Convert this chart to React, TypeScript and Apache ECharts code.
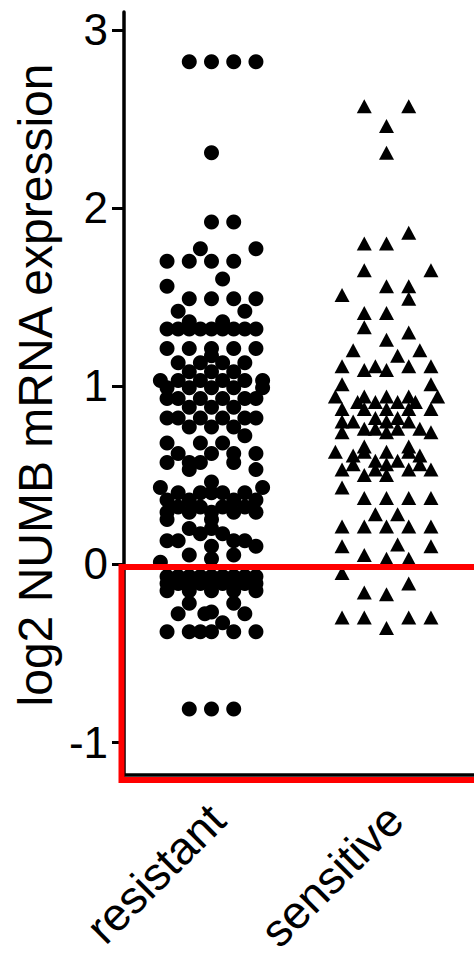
import React, { useEffect, useRef } from "react";
import * as echarts from "echarts";

const categories = ["resistant", "sensitive"];
const yTicks = [-1, 0, 1, 2, 3];
const yTitle = "log2 NUMB mRNA expression";

// [log2 value, horizontal slots (in marker widths) of the points sharing that value]
const resistantRows: [number, number[]][] = [
  [2.82, [-1, 0, 1, 2]],
  [2.31, [0]],
  [1.92, [0, 1]],
  [1.77, [-0.5, 2]],
  [1.7, [-2, -1, 0, 1]],
  [1.6, [0.5]],
  [1.56, [-2]],
  [1.49, [-1, 0, 1, 2]],
  [1.42, [-1.5, 1.5]],
  [1.36, [-1, 0.5]],
  [1.32, [-2, -1.5, -1, -0.5, 0, 0.5, 1, 1.5, 2]],
  [1.21, [-2, -1, 0, 1, 2]],
  [1.17, [0]],
  [1.13, [-1.5, -0.5, 0.5, 1.5]],
  [1.08, [-1, 0, 1]],
  [1.03, [-2.3, -1.5, -0.5, 0.5, 1.5, 2.3]],
  [0.99, [-2, -1, 0, 1, 2.3]],
  [0.93, [-2, -1.5, -0.5, 0.5, 1.5, 2]],
  [0.88, [-1, 0, 1]],
  [0.82, [-2, -1.5, -0.5, 0.5, 1.5, 2]],
  [0.77, [-1, 0, 1]],
  [0.72, [1.5]],
  [0.68, [-2, -0.5, 0.5]],
  [0.62, [-1.5, 0, 1, 2]],
  [0.57, [-2, -1, -0.5, 1]],
  [0.53, [-1, 2]],
  [0.46, [0]],
  [0.43, [-2.3, 2.3]],
  [0.4, [-1.5, -0.5, 0, 0.5, 1.5]],
  [0.36, [-2, -1, 1, 2]],
  [0.32, [-1.5, -0.5, 0.5, 1.5]],
  [0.29, [-2, -1, 0, 1, 2]],
  [0.25, [-2, 0]],
  [0.2, [-1, 0]],
  [0.17, [-0.5, 0.5]],
  [0.13, [-2, -1.5, 1, 1.5]],
  [0.1, [0, 2]],
  [0.05, [-1, 1]],
  [0.03, [0]],
  [0.01, [-2.3]],
  [-0.07, [-2, -1.5, -1, -0.5, 0, 0.5, 1, 1.5, 2]],
  [-0.11, [-2, -1.5, -1, -0.5, 0, 0.5, 1, 1.5, 2]],
  [-0.15, [-2, -1, 0, 1, 2]],
  [-0.22, [-1, 1]],
  [-0.27, [0]],
  [-0.28, [-1.5, -0.3, 1.5]],
  [-0.33, [0.5]],
  [-0.38, [-2, -1, -0.5, 0, 1, 2]],
  [-0.815, [-1, 0, 1]],
];

const sensitiveRows: [number, number[]][] = [
  [2.57, [-1, 1]],
  [2.46, [0]],
  [2.31, [0]],
  [1.86, [1]],
  [1.8, [-1, 0]],
  [1.65, [-1, 2]],
  [1.56, [0, 1]],
  [1.51, [-2]],
  [1.49, [1]],
  [1.41, [-1, 0]],
  [1.33, [-1]],
  [1.3, [1]],
  [1.26, [0]],
  [1.2, [-1.5, 1.5]],
  [1.17, [0.5]],
  [1.11, [-2, -0.5, 1, 2]],
  [1.09, [-1, 0]],
  [1.01, [-2, 2]],
  [0.94, [-2.3, -1, 0, 1, 2.3]],
  [0.91, [-1.3, -0.5, 0.5, 1.3]],
  [0.87, [-2, -1, 0, 1, 2]],
  [0.82, [-0.5, 0.5]],
  [0.8, [-2, -1.5, 0, 1]],
  [0.76, [-1, -0.5, 0.5, 1.5]],
  [0.74, [-2, 0, 2]],
  [0.66, [-1, 1]],
  [0.63, [-2.3, -1, 0, 1]],
  [0.61, [-1.5, 1.5]],
  [0.58, [-0.5, 0.5]],
  [0.56, [-1.5, 0, 1.5]],
  [0.53, [-2, -0.5, 1, 2]],
  [0.5, [-1, 0]],
  [0.43, [-2]],
  [0.37, [-1, 0, 1, 2]],
  [0.28, [-0.5, 0.5]],
  [0.21, [-2, -1, 0, 1, 2]],
  [0.11, [0.5]],
  [0.1, [-2, 2]],
  [0.05, [-1]],
  [0.03, [0, 1]],
  [-0.05, [-2]],
  [-0.11, [1]],
  [-0.16, [-1]],
  [-0.17, [0]],
  [-0.3, [-2, -1, 1, 2]],
  [-0.36, [0]],
];

const FONT = "Liberation Sans, Arial, sans-serif";

export default function App() {
  const ref = useRef<HTMLDivElement>(null);

  useEffect(() => {
    if (!ref.current) return;
    const chart = echarts.init(ref.current, null, { renderer: "svg" });

    const gridLeft = 124;
    const gridTop = 12;
    const gridWidth = 356;
    const gridHeight = 763;
    const band = gridWidth / categories.length;
    const slot = 0.127; // one marker width in x-value units

    const toPoints = (rows: [number, number[]][], center: number) =>
      rows.flatMap(([v, offs]) => offs.map((o) => [center + o * slot, v]));

    const labelGraphics = categories.map((c, i) => ({
      type: "text",
      x: gridLeft + (i + 0.5) * band + 4,
      y: 812,
      rotation: Math.PI / 4,
      style: {
        text: c,
        font: `46px ${FONT}`,
        fill: "#000",
        align: "right",
        verticalAlign: "middle",
        textAlign: "right",
        textVerticalAlign: "middle",
      },
    }));

    chart.setOption({
      animation: false,
      backgroundColor: "#fff",
      grid: { left: gridLeft, top: gridTop, width: gridWidth, height: gridHeight },
      xAxis: [
        {
          type: "category",
          data: categories,
          boundaryGap: true,
          axisLine: { onZero: false, lineStyle: { color: "#000", width: 3.5 } },
          axisTick: { alignWithLabel: true, length: 15, lineStyle: { color: "#000", width: 3 } },
          axisLabel: { show: false },
          splitLine: { show: false },
        },
        { type: "value", min: 0, max: 2, show: false },
      ],
      yAxis: {
        type: "value",
        min: -1.185,
        max: 3.1,
        axisLine: { show: true, onZero: false, lineStyle: { color: "#000", width: 3.5 } },
        axisTick: {
          show: true,
          length: 12,
          customValues: yTicks,
          lineStyle: { color: "#000", width: 3 },
        },
        axisLabel: {
          customValues: yTicks,
          fontSize: 44,
          color: "#000",
          fontFamily: FONT,
          margin: 16,
        },
        splitLine: { show: false },
      },
      series: [
        {
          name: categories[0],
          type: "scatter",
          xAxisIndex: 1,
          symbol: "circle",
          symbolSize: 15,
          itemStyle: { color: "#000", opacity: 1 },
          data: toPoints(resistantRows, 0.5),
        },
        {
          name: categories[1],
          type: "scatter",
          xAxisIndex: 1,
          symbol: "triangle",
          symbolSize: [15, 14],
          itemStyle: { color: "#000", opacity: 1 },
          data: toPoints(sensitiveRows, 1.5),
        },
      ],
      graphic: [
        {
          type: "text",
          x: 35,
          y: 385,
          rotation: Math.PI / 2,
          style: {
            text: yTitle,
            font: `48px ${FONT}`,
            fill: "#000",
            align: "center",
            verticalAlign: "middle",
            textAlign: "center",
            textVerticalAlign: "middle",
          },
        },
        ...labelGraphics,
        {
          type: "rect",
          z: 100,
          shape: { x: 121.5, y: 567, width: 400, height: 213 },
          style: { fill: "none", stroke: "#ff0000", lineWidth: 6 },
        },
      ],
    });

    return () => chart.dispose();
  }, []);

  return (
    <div
      ref={ref}
      style={{ position: "fixed", left: 0, top: 0, width: 474, height: 960 }}
    />
  );
}
